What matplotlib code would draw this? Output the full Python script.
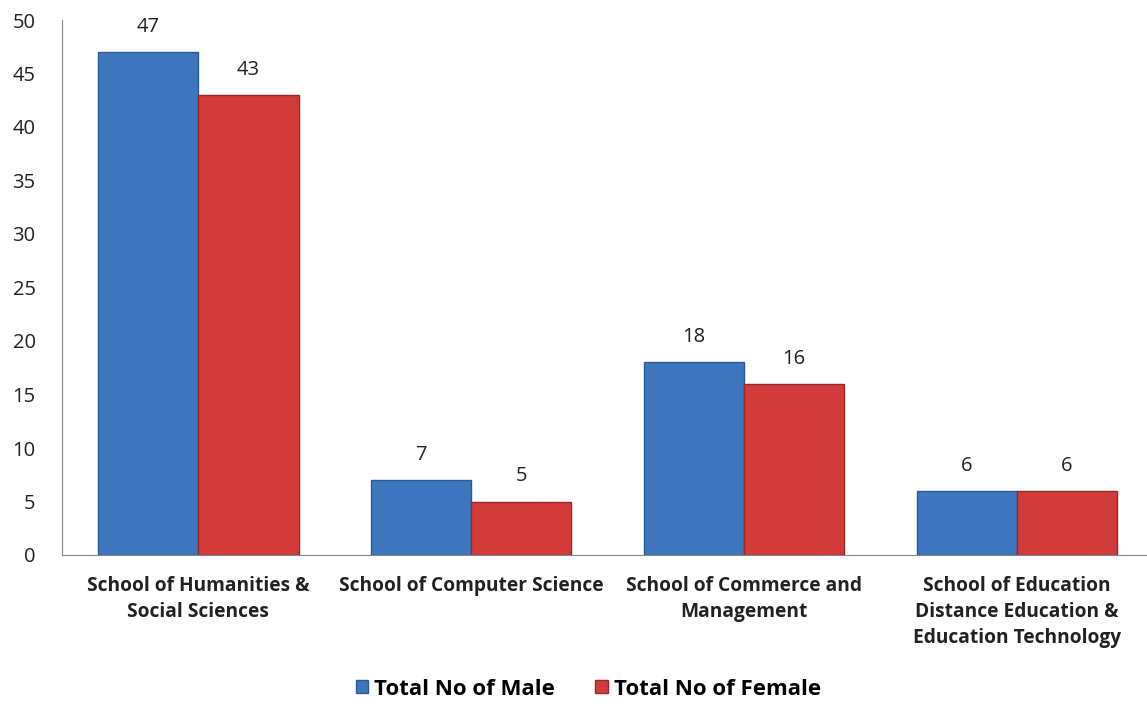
import matplotlib.pyplot as plt
import numpy as np

categories = ["School of Humanities &\nSocial Sciences",
              "School of Computer Science",
              "School of Commerce and\nManagement",
              "School of Education\nDistance Education &\nEducation Technology"]
male = [47, 7, 18, 6]
female = [43, 5, 16, 6]
series_names = ["Total No of Male", "Total No of Female"]
yticks = [0, 5, 10, 15, 20, 25, 30, 35, 40, 45, 50]

plt.rcParams['font.family'] = ['Open Sans', 'DejaVu Sans']

fig = plt.figure(figsize=(11.47, 7.11), dpi=100)
ax = fig.add_axes([62/1147, 1 - 555/711, 4*272.8/1147, (555-20)/711])

x = np.arange(len(categories))
w = 0.367
blue = '#3D76BD'
red = '#D23B3B'
b1 = ax.bar(x - w/2, male, w, color=blue, edgecolor='#2A5A95', linewidth=1.0, label=series_names[0])
b2 = ax.bar(x + w/2, female, w, color=red, edgecolor='#9A2727', linewidth=1.0, label=series_names[1])

for bars, vals in ((b1, male), (b2, female)):
    for r, v in zip(bars, vals):
        ax.annotate(str(v), (r.get_x() + r.get_width()/2, v), xytext=(0, 11),
                    textcoords='offset points', ha='center', va='bottom',
                    fontsize=14.5, color='#222222')

ax.set_xlim(-0.5, 3.5)
ax.set_ylim(0, 50)
ax.set_yticks(yticks)
ax.set_xticks(x)
ax.set_xticklabels(categories, fontsize=13.8, fontweight='bold', color='#222222', linespacing=1.4)
ax.tick_params(axis='y', length=0, pad=19, labelsize=14.5, labelcolor='#222222')
ax.tick_params(axis='x', length=0, pad=15)
for s in ['top', 'right']:
    ax.spines[s].set_visible(False)
ax.spines['left'].set_color('#888888')
ax.spines['bottom'].set_color('#888888')

fig.legend(handles=[b1, b2], labels=series_names, loc='lower center',
           bbox_to_anchor=(0.513, -0.012), ncol=2, frameon=False,
           prop={'size': 16, 'weight': 'bold'}, handlelength=0.55, handleheight=0.55,
           handletextpad=0.3, columnspacing=1.8)

fig.savefig('out.png', dpi=100)
